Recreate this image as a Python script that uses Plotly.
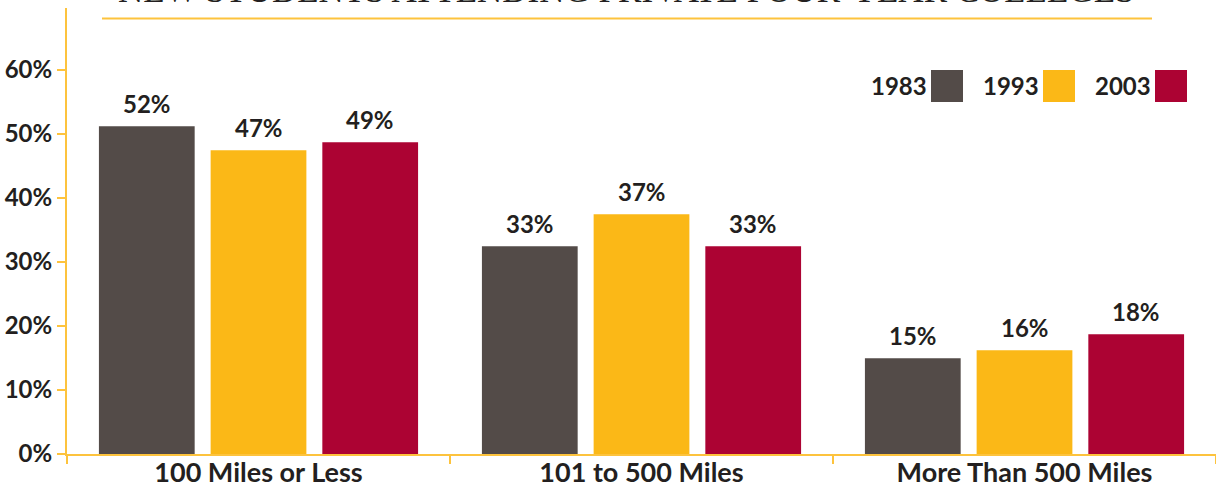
import plotly.graph_objects as go

categories = ["100 Miles or Less", "101 to 500 Miles", "More Than 500 Miles"]
years = ["1983", "1993", "2003"]
values_1983 = [51.2, 32.45, 14.95]
values_1993 = [47.45, 37.45, 16.2]
values_2003 = [48.7, 32.45, 18.7]
labels_1983 = ["52%", "33%", "15%"]
labels_1993 = ["47%", "37%", "16%"]
labels_2003 = ["49%", "33%", "18%"]
y_ticks = [0, 10, 20, 30, 40, 50, 60]
y_tick_labels = ["0%", "10%", "20%", "30%", "40%", "50%", "60%"]
title_text = "NEW STUDENTS ATTENDING PRIVATE FOUR-YEAR COLLEGES"

colors = ["#534b48", "#fbb817", "#ac0333"]
axis_color = "#fdc33d"
text_color = "#231f20"
font_family = "Lato"

W, H = 1216, 482
ml, mr, mt, mb = 67, 0, 8, 28
plot_w = W - ml - mr
plot_h = H - mt - mb
px_per_unit = 6.4
y_max = plot_h / px_per_unit

bargap = 0.125
bargroupgap = 16 / 112

series_vals = [values_1983, values_1993, values_2003]
series_labels = [labels_1983, labels_1993, labels_2003]

fig = go.Figure()
for yr, vals, col in zip(years, series_vals, colors):
    fig.add_trace(go.Bar(
        name=yr, x=categories, y=vals, marker=dict(color=col, line=dict(width=0)),
        hoverinfo="skip",
    ))

annotations = []
slot = (1 - bargap) / 3
for s, (vals, labs) in enumerate(zip(series_vals, series_labels)):
    for i, (v, lab) in enumerate(zip(vals, labs)):
        annotations.append(dict(
            x=i + (s - 1) * slot, y=v, xref="x", yref="y", text=lab,
            showarrow=False, yanchor="middle", yshift=23,
            font=dict(family=font_family, size=24, color=text_color, weight="bold"),
        ))

def px_x(p):
    return (p - ml) / plot_w

def px_y(p):
    return (H - mb - p) / plot_h

# title (mostly above the visible area)
annotations.append(dict(
    x=px_x(626), y=px_y(12), xref="paper", yref="paper", text=title_text,
    showarrow=False, xanchor="center", yanchor="bottom",
    font=dict(family="Liberation Serif", size=35, color=text_color),
))

shapes = [dict(type="line", xref="paper", yref="paper",
               x0=px_x(102), x1=px_x(1152), y0=px_y(18.5), y1=px_y(18.5),
               line=dict(color=axis_color, width=2))]

# legend (text left of swatch)
leg_sq_x = [931, 1043, 1155]
for yr, col, sx in zip(years, colors, leg_sq_x):
    shapes.append(dict(type="rect", xref="paper", yref="paper",
                       x0=px_x(sx), x1=px_x(sx + 32), y0=px_y(102), y1=px_y(70),
                       fillcolor=col, line=dict(width=0)))
    annotations.append(dict(
        x=px_x(sx - 2), y=px_y(86), xref="paper", yref="paper", text=yr,
        showarrow=False, xanchor="right", yanchor="middle",
        font=dict(family=font_family, size=24, color=text_color, weight="bold"),
    ))

fig.update_layout(
    width=W, height=H,
    margin=dict(l=ml, r=mr, t=mt, b=mb, pad=0, autoexpand=False),
    paper_bgcolor="white", plot_bgcolor="white",
    barmode="group", bargap=bargap, bargroupgap=bargroupgap,
    showlegend=False,
    annotations=annotations, shapes=shapes,
    xaxis=dict(
        automargin=False,
        showline=True, linecolor=axis_color, linewidth=2,
        ticks="outside", tickson="boundaries", ticklen=8, tickwidth=2, tickcolor=axis_color,
        showgrid=False, zeroline=False,
        tickfont=dict(family=font_family, size=27, color=text_color, weight="bold"),
        ticklabelstandoff=-6,
    ),
    yaxis=dict(
        automargin=False,
        range=[0, y_max], tickvals=y_ticks, ticktext=y_tick_labels,
        showline=True, linecolor=axis_color, linewidth=2,
        ticks="outside", ticklen=8, tickwidth=2, tickcolor=axis_color,
        showgrid=False, zeroline=False,
        tickfont=dict(family=font_family, size=24, color=text_color, weight="bold"),
    ),
)

fig.write_html("out.html", config={"displayModeBar": False},
               post_script="document.body.style.margin='0';document.body.style.overflow='hidden';")
